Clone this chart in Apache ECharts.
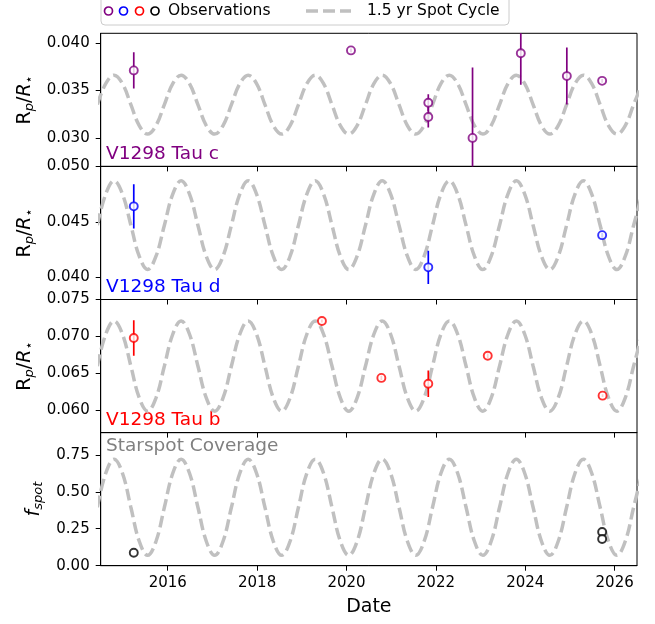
<!DOCTYPE html>
<html>
<head>
<meta charset="utf-8">
<script src="https://cdn.jsdelivr.net/npm/echarts@6/dist/echarts.min.js"></script>
<style>
  html, body { margin: 0; padding: 0; background: #fff; }
  #main { width: 655px; height: 624px; }
</style>
</head>
<body>
<div id="main"></div>
<script>
// observation dates (decimal year), values and 1-sigma errors per planet
var datesC = [2015.24, 2020.10, 2021.83, 2021.83, 2022.82, 2023.90, 2024.93, 2025.72];
var valsC  = [0.0371, 0.0392, 0.0337, 0.0322, 0.0300, 0.0389, 0.0365, 0.0360];
var errsC  = [0.0019, 0.0002, 0.0009, 0.0011, 0.0074, 0.0033, 0.0030, 0.0002];

var datesD = [2015.24, 2021.83, 2025.72];
var valsD  = [0.0464, 0.0409, 0.0438];
var errsD  = [0.0020, 0.0015, 0.0002];

var datesB = [2015.24, 2019.45, 2020.78, 2021.83, 2023.16, 2025.73];
var valsB  = [0.0698, 0.0721, 0.0644, 0.0636, 0.0674, 0.0620];
var errsB  = [0.0024, 0.0002, 0.0003, 0.0018, 0.0003, 0.0002];

var datesF = [2015.24, 2025.72, 2025.72];
var valsF  = [0.088, 0.228, 0.181];

// dashed 1.5 yr spot cycle, every 1/8 period
var cycleYears = [2014.425, 2014.6125, 2014.8, 2014.9875, 2015.175, 2015.3625, 2015.55, 2015.7375,
  2015.925, 2016.1125, 2016.3, 2016.4875, 2016.675, 2016.8625, 2017.05, 2017.2375,
  2017.425, 2017.6125, 2017.8, 2017.9875, 2018.175, 2018.3625, 2018.55, 2018.7375,
  2018.925, 2019.1125, 2019.3, 2019.4875, 2019.675, 2019.8625, 2020.05, 2020.2375,
  2020.425, 2020.6125, 2020.8, 2020.9875, 2021.175, 2021.3625, 2021.55, 2021.7375,
  2021.925, 2022.1125, 2022.3, 2022.4875, 2022.675, 2022.8625, 2023.05, 2023.2375,
  2023.425, 2023.6125, 2023.8, 2023.9875, 2024.175, 2024.3625, 2024.55, 2024.7375,
  2024.925, 2025.1125, 2025.3, 2025.4875, 2025.675, 2025.8625, 2026.05, 2026.2375,
  2026.425, 2026.6125];
var cycleC = [0.0335, 0.0357, 0.0366, 0.0357, 0.0335, 0.0313, 0.0304, 0.0313,
  0.0335, 0.0357, 0.0366, 0.0357, 0.0335, 0.0313, 0.0304, 0.0313,
  0.0335, 0.0357, 0.0366, 0.0357, 0.0335, 0.0313, 0.0304, 0.0313,
  0.0335, 0.0357, 0.0366, 0.0357, 0.0335, 0.0313, 0.0304, 0.0313,
  0.0335, 0.0357, 0.0366, 0.0357, 0.0335, 0.0313, 0.0304, 0.0313,
  0.0335, 0.0357, 0.0366, 0.0357, 0.0335, 0.0313, 0.0304, 0.0313,
  0.0335, 0.0357, 0.0366, 0.0357, 0.0335, 0.0313, 0.0304, 0.0313,
  0.0335, 0.0357, 0.0366, 0.0357, 0.0335, 0.0313, 0.0304, 0.0313,
  0.0335, 0.0357];
var cycleD = [0.0447, 0.0475, 0.0487, 0.0475, 0.0447, 0.0419, 0.0407, 0.0419,
  0.0447, 0.0475, 0.0487, 0.0475, 0.0447, 0.0419, 0.0407, 0.0419,
  0.0447, 0.0475, 0.0487, 0.0475, 0.0447, 0.0419, 0.0407, 0.0419,
  0.0447, 0.0475, 0.0487, 0.0475, 0.0447, 0.0419, 0.0407, 0.0419,
  0.0447, 0.0475, 0.0487, 0.0475, 0.0447, 0.0419, 0.0407, 0.0419,
  0.0447, 0.0475, 0.0487, 0.0475, 0.0447, 0.0419, 0.0407, 0.0419,
  0.0447, 0.0475, 0.0487, 0.0475, 0.0447, 0.0419, 0.0407, 0.0419,
  0.0447, 0.0475, 0.0487, 0.0475, 0.0447, 0.0419, 0.0407, 0.0419,
  0.0447, 0.0475];
var cycleB = [0.0660, 0.0703, 0.0721, 0.0703, 0.0660, 0.0617, 0.0599, 0.0617,
  0.0660, 0.0703, 0.0721, 0.0703, 0.0660, 0.0617, 0.0599, 0.0617,
  0.0660, 0.0703, 0.0721, 0.0703, 0.0660, 0.0617, 0.0599, 0.0617,
  0.0660, 0.0703, 0.0721, 0.0703, 0.0660, 0.0617, 0.0599, 0.0617,
  0.0660, 0.0703, 0.0721, 0.0703, 0.0660, 0.0617, 0.0599, 0.0617,
  0.0660, 0.0703, 0.0721, 0.0703, 0.0660, 0.0617, 0.0599, 0.0617,
  0.0660, 0.0703, 0.0721, 0.0703, 0.0660, 0.0617, 0.0599, 0.0617,
  0.0660, 0.0703, 0.0721, 0.0703, 0.0660, 0.0617, 0.0599, 0.0617,
  0.0660, 0.0703];
var cycleF = [0.395, 0.625, 0.72, 0.625, 0.395, 0.165, 0.07, 0.165,
  0.395, 0.625, 0.72, 0.625, 0.395, 0.165, 0.07, 0.165,
  0.395, 0.625, 0.72, 0.625, 0.395, 0.165, 0.07, 0.165,
  0.395, 0.625, 0.72, 0.625, 0.395, 0.165, 0.07, 0.165,
  0.395, 0.625, 0.72, 0.625, 0.395, 0.165, 0.07, 0.165,
  0.395, 0.625, 0.72, 0.625, 0.395, 0.165, 0.07, 0.165,
  0.395, 0.625, 0.72, 0.625, 0.395, 0.165, 0.07, 0.165,
  0.395, 0.625, 0.72, 0.625, 0.395, 0.165, 0.07, 0.165,
  0.395, 0.625];

// axis ticks
var xTicks = [2016, 2018, 2020, 2022, 2024, 2026];
var yTicksC = [0.030, 0.035, 0.040];
var yTicksD = [0.040, 0.045, 0.050];
var yTicksB = [0.060, 0.065, 0.070, 0.075];
var yTicksF = [0, 0.25, 0.5, 0.75];

var FONT = 'DejaVu Sans';
var GRAY = '#c0c0c0';

var panels = [
  { label: 'V1298 Tau c', color: '#800080', min: 0.027, max: 0.041, ticks: yTicksC, dec: 3,
    dates: datesC, vals: valsC, errs: errsC, cycle: cycleC },
  { label: 'V1298 Tau d', color: '#0000ff', min: 0.038, max: 0.050, ticks: yTicksD, dec: 3,
    dates: datesD, vals: valsD, errs: errsD, cycle: cycleD },
  { label: 'V1298 Tau b', color: '#ff0000', min: 0.057, max: 0.075, ticks: yTicksB, dec: 3,
    dates: datesB, vals: valsB, errs: errsB, cycle: cycleB },
  { label: 'Starspot Coverage', color: '#000000', min: 0, max: 0.9, ticks: yTicksF, dec: 2,
    dates: datesF, vals: valsF, errs: null, cycle: cycleF }
];

var gridTop = 33.3, gridH = 133.1, gridLeft = 100.7, gridRight = 18;

var rpName = '{u|R}{s|p}{u|/}{i|R}{s|⋆}';
var fName = '{i|f}{s|spot}';
var nameRich = {
  u: { fontSize: 19, fontFamily: FONT, color: '#000' },
  i: { fontSize: 19, fontFamily: FONT, fontStyle: 'italic', color: '#000' },
  s: { fontSize: 13, fontFamily: FONT, fontStyle: 'italic', color: '#000', verticalAlign: 'bottom', padding: [9, 0, 0, 0] }
};

var grids = [], xAxes = [], yAxes = [], series = [], graphics = [];

panels.forEach(function (p, i) {
  grids.push({
    left: gridLeft, right: gridRight, top: gridTop + i * gridH, height: gridH,
    show: true, borderColor: '#000', borderWidth: 1, backgroundColor: 'transparent'
  });
  var last = i === panels.length - 1;
  xAxes.push({
    type: 'value', gridIndex: i, min: 2014.5, max: 2026.5,
    axisLine: { show: true, lineStyle: { color: '#000', width: 1 } },
    axisTick: { show: true, length: 5, customValues: xTicks, lineStyle: { color: '#000' } },
    axisLabel: { show: last, customValues: xTicks, fontSize: 15, fontFamily: FONT, color: '#000', margin: 10,
      formatter: function (v) { return String(Math.round(v)); } },
    splitLine: { show: false },
    name: last ? 'Date' : '', nameLocation: 'middle', nameGap: 32,
    nameTextStyle: { fontSize: 19, fontFamily: FONT, color: '#000' }
  });
  yAxes.push({
    type: 'value', gridIndex: i, min: p.min, max: p.max,
    axisLine: { show: true, lineStyle: { color: '#000', width: 1 } },
    axisTick: { show: true, length: 5, customValues: p.ticks, lineStyle: { color: '#000' } },
    axisLabel: { customValues: p.ticks, fontSize: 15, fontFamily: FONT, color: '#000', margin: 11,
      formatter: (function (d) { return function (v) { return v.toFixed(d); }; })(p.dec) },
    splitLine: { show: false },
    name: last ? fName : rpName, nameLocation: 'middle', nameRotate: 90, nameGap: last ? 53 : 60,
    nameTextStyle: { rich: nameRich }
  });

  series.push({
    type: 'line', xAxisIndex: i, yAxisIndex: i, name: '1.5 yr Spot Cycle',
    data: cycleYears.map(function (x, j) { return [x, p.cycle[j]]; }),
    showSymbol: false, smooth: 0.4, silent: true, z: 2,
    lineStyle: { color: GRAY, width: 3.5, type: [12, 5] }
  });
  if (p.errs) {
    series.push({
      type: 'custom', xAxisIndex: i, yAxisIndex: i, clip: true, z: 3, silent: true,
      encode: { x: 0, y: 1 },
      data: p.dates.map(function (d, j) { return [d, p.vals[j], p.errs[j]]; }),
      renderItem: (function (col) {
        return function (params, api) {
          var x = api.value(0), y = api.value(1), e = api.value(2);
          var a = api.coord([x, y - e]), b = api.coord([x, y + e]);
          return { type: 'line', shape: { x1: a[0], y1: a[1], x2: b[0], y2: b[1] },
            style: { stroke: col, lineWidth: 1.7 } };
        };
      })(p.color)
    });
  }
  series.push({
    type: 'scatter', xAxisIndex: i, yAxisIndex: i, name: 'Observations', z: 4,
    data: p.dates.map(function (d, j) { return [d, p.vals[j]]; }),
    symbol: 'circle', symbolSize: 8,
    itemStyle: { color: '#fff', borderColor: p.color, borderWidth: 1.9 }
  });

  var top = gridTop + i * gridH;
  graphics.push({
    type: 'text', left: 106,
    top: last ? top + 4 : top + gridH - 22,
    style: { text: p.label, fill: last ? '#808080' : p.color, font: '18.5px "DejaVu Sans"' }
  });
});

// legend box drawn by hand (four coloured circles share one entry)
var legendCircles = [['#800080', 108.5], ['#0000ff', 123.5], ['#ff0000', 139.5], ['#000000', 155]];
graphics.push({ type: 'rect', shape: { x: 101, y: -8, width: 408, height: 33, r: 4 },
  style: { fill: 'rgba(255,255,255,0.8)', stroke: '#cccccc', lineWidth: 1 }, z: 10 });
legendCircles.forEach(function (c) {
  graphics.push({ type: 'circle', shape: { cx: c[1], cy: 11, r: 4 },
    style: { fill: '#fff', stroke: c[0], lineWidth: 1.7 }, z: 11 });
});
graphics.push({ type: 'text', x: 168, y: 11, z: 11,
  style: { text: 'Observations', fill: '#000', font: '15.5px "DejaVu Sans"', verticalAlign: 'middle' } });
graphics.push({ type: 'line', shape: { x1: 306, y1: 11, x2: 351, y2: 11 }, z: 11,
  style: { stroke: GRAY, lineWidth: 3.5, lineDash: [12, 5] } });
graphics.push({ type: 'text', x: 367, y: 11, z: 11,
  style: { text: '1.5 yr Spot Cycle', fill: '#000', font: '15.5px "DejaVu Sans"', verticalAlign: 'middle' } });

var myChart = echarts.init(document.getElementById('main'));
myChart.setOption({
  animation: false,
  backgroundColor: '#fff',
  textStyle: { fontFamily: FONT },
  grid: grids,
  xAxis: xAxes,
  yAxis: yAxes,
  series: series,
  graphic: graphics
});
</script>
</body>
</html>
